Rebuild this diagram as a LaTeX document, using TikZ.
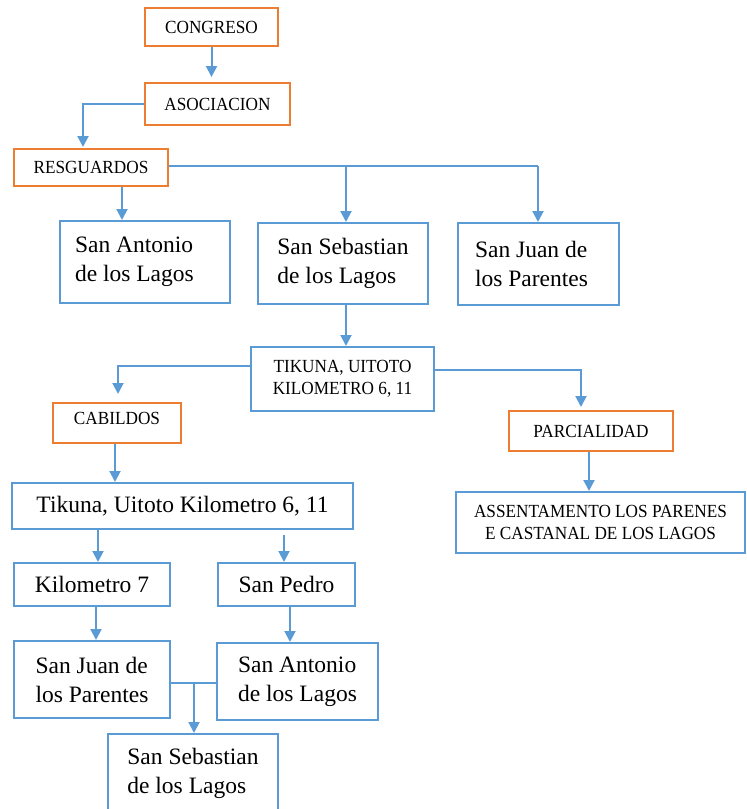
\documentclass[tikz,border=0pt]{standalone}
\usepackage{fontspec}
\setmainfont{Liberation Serif}
\newfontfamily\smallfont{Liberation Serif}[FakeStretch=0.93]
\usetikzlibrary{arrows.meta}
\definecolor{oorange}{HTML}{ED7D31}
\definecolor{oblue}{HTML}{5B9BD5}
\begin{document}
\begin{tikzpicture}[x=1pt,y=-1pt,
 obox/.style={draw=oorange,line width=2pt,inner sep=0pt,font=\smallfont\fontsize{18.5}{21.5}\selectfont,align=center},
 bbox/.style={draw=oblue,line width=2pt,inner sep=0pt,font=\fontsize{23.5}{29}\selectfont,align=left},
 sbox/.style={draw=oblue,line width=2pt,inner sep=0pt,font=\smallfont\fontsize{18.5}{21.5}\selectfont,align=center},
 conn/.style={draw=oblue,line width=2pt},
 arr/.style={conn,-{Triangle[width=11pt,length=11pt]}}]
\useasboundingbox (0,0) rectangle (747,809);
\clip (0,0) rectangle (747,809);

% orange boxes
\node[obox,minimum width=133pt,minimum height=38pt] (cong) at (211.5,27) {CONGRESO};
\node[obox,minimum width=145pt,minimum height=42pt] (asoc) at (217.5,104) {ASOCIACION};
\node[obox,minimum width=154pt,minimum height=37pt] (resg) at (91,167.5) {RESGUARDOS};
\node[obox,minimum width=128pt,minimum height=40pt,text depth=9pt] (cab) at (117,423) {CABILDOS};
\node[obox,minimum width=164pt,minimum height=40pt] (par) at (591,431) {PARCIALIDAD};

% blue boxes
\node[bbox,align=flush left,text width=140pt,minimum width=170pt,minimum height=82pt] (sa1) at (145,262) {San Antonio\\de los Lagos};
\node[bbox,minimum width=170pt,minimum height=81pt] (ss1) at (343,263.5) {San Sebastian\\de los Lagos};
\node[bbox,align=flush left,text width=127pt,minimum width=161pt,minimum height=82pt] (sj1) at (538.5,264) {San Juan de\\los Parentes};
\node[sbox,minimum width=183pt,minimum height=64pt] (tik) at (342.5,379) {TIKUNA, UITOTO\\KILOMETRO 6, 11};
\node[sbox,minimum width=289pt,minimum height=61pt] (ase) at (600.5,522.5) {ASSENTAMENTO LOS PARENES\\E CASTANAL DE LOS LAGOS};
\node[bbox,minimum width=341pt,minimum height=46pt] (tik2) at (182.5,506) {Tikuna, Uitoto Kilometro 6, 11};
\node[bbox,minimum width=156pt,minimum height=43pt] (km7) at (92,584.5) {Kilometro 7};
\node[bbox,minimum width=137pt,minimum height=43pt] (sp) at (286.5,584.5) {San Pedro};
\node[bbox,minimum width=156pt,minimum height=77pt] (sj2) at (92,679.5) {San Juan de\\los Parentes};
\node[bbox,minimum width=161pt,minimum height=77pt] (sa2) at (297.5,681.5) {San Antonio\\de los Lagos};
\node[bbox,minimum width=170pt,minimum height=79pt] (ss2) at (193,773.5) {San Sebastian\\de los Lagos};

% connectors
\draw[arr] (cong.south) -- ++(0,30);
\draw[arr] (asoc.west) -- (83,104) -- (83,147);
\draw[conn] ([yshift=2pt]resg.east) -- (538,165.5);
\draw[arr] (resg.south -| 122,0) -- (sa1.north -| 122,0);
\draw[arr] (346,165.5) -- (ss1.north -| 346,0);
\draw[arr] (538,165.5) -- (sj1.north -| 538,0);
\draw[arr] (ss1.south -| 346,0) -- (tik.north -| 346,0);
\draw[arr] ([yshift=13pt]tik.west) -- (118,366) -- (118,394);
\draw[arr] ([yshift=9pt]tik.east) -- (581,370) -- (581,407);
\draw[arr] (cab.south -| 115,0) -- (tik2.north -| 115,0);
\draw[arr] (par.south -| 589,0) -- (ase.north -| 589,0);
\draw[arr] (tik2.south -| 98,0) -- (km7.north -| 98,0);
\draw[arr] (284,535) -- (sp.north -| 284,0);
\draw[arr] (km7.south -| 96,0) -- (sj2.north -| 96,0);
\draw[arr] (sp.south -| 290,0) -- (sa2.north -| 290,0);
\draw[conn] (sj2.east |- 0,683) -- (sa2.west |- 0,683);
\draw[arr] (194,683) -- (ss2.north -| 194,0);
\end{tikzpicture}
\end{document}
